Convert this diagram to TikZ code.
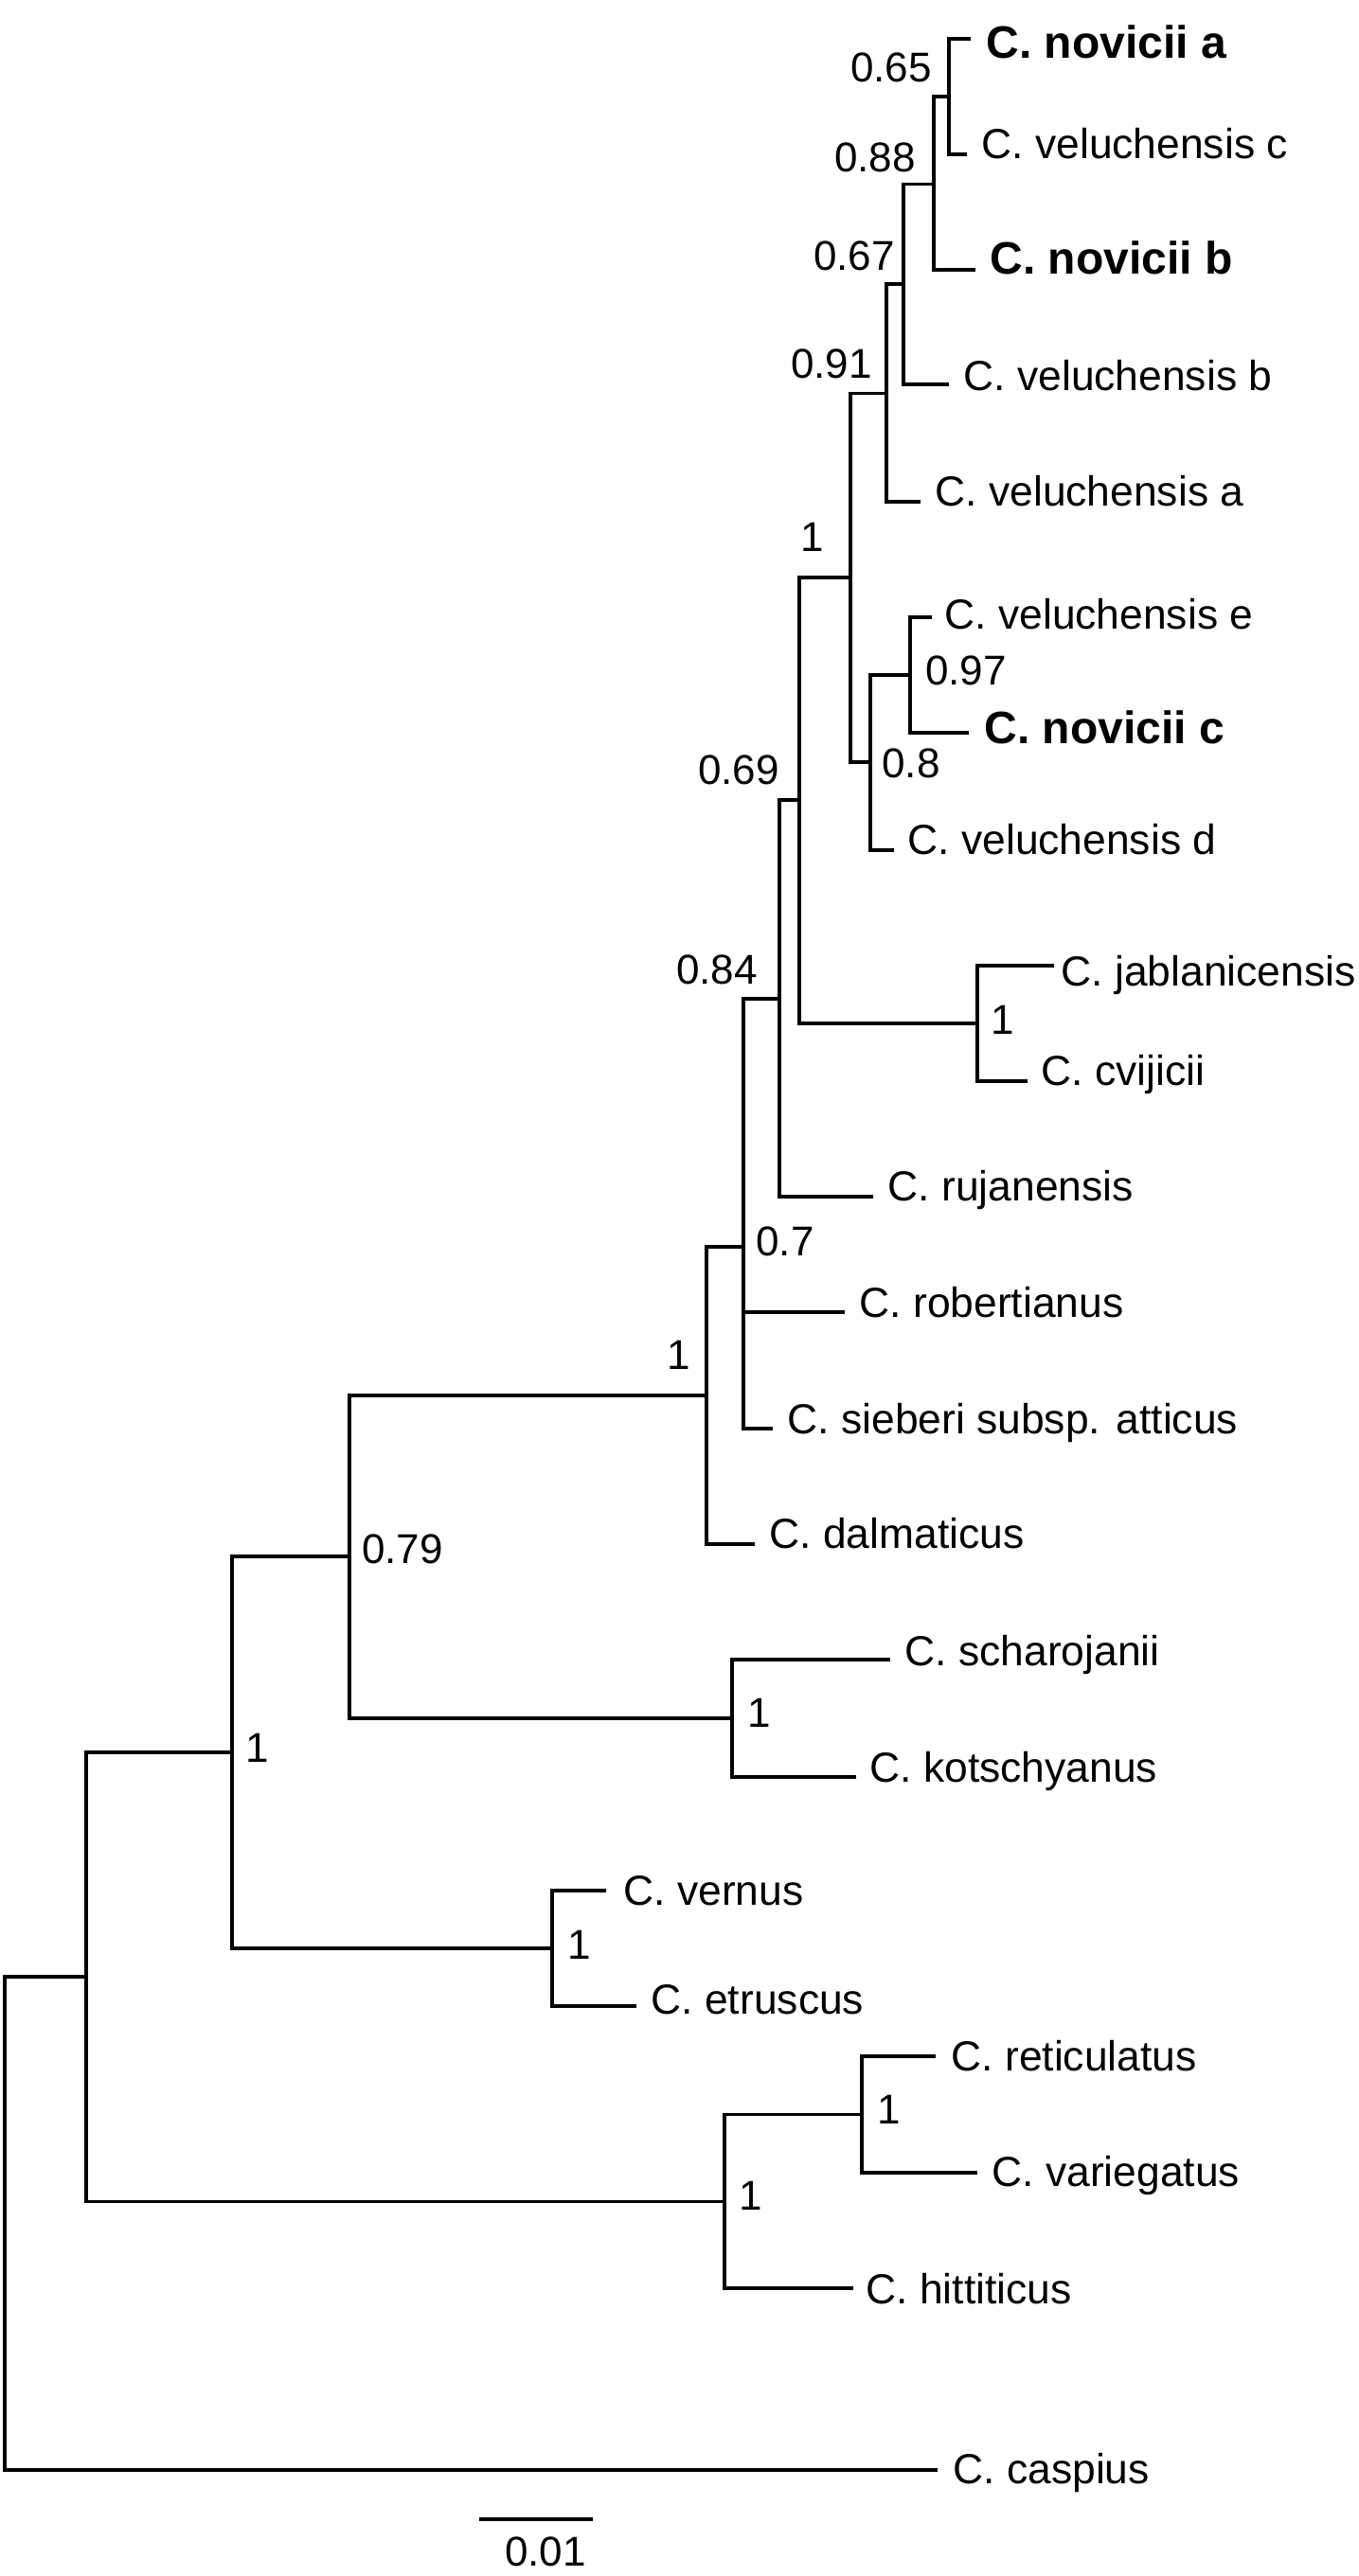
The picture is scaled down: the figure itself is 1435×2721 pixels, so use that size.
\documentclass[tikz,border=0pt]{standalone}
\usepackage{fontspec}
\setmainfont{Liberation Sans}
\begin{document}
\begin{tikzpicture}[x=0.25pt,y=-0.25pt,line width=0.8pt,
	taxon/.style={anchor=base west,inner sep=0pt,font=\fontsize{11.1}{13}\selectfont},
	novicii/.style={taxon,font=\fontsize{12}{14}\selectfont\bfseries},
	support/.style={anchor=base,inner sep=0pt,font=\fontsize{11}{13}\selectfont}]
		\useasboundingbox (0,0) rectangle (1435,2721);
		% inner nodes of the tree
		\coordinate (root) at (5,2348.5);
		\coordinate (na) at (91,2088);
		\coordinate (nb) at (245,1851);
		\coordinate (nc) at (369,1644);
		\coordinate (nd) at (746,1474);
		\coordinate (ne) at (785,1317);
		\coordinate (nf) at (823,1055);
		\coordinate (ng) at (844,845);
		\coordinate (nx) at (898,610);
		\coordinate (q91) at (936,415.5);
		\coordinate (q67) at (954,300);
		\coordinate (q88) at (986,194.5);
		\coordinate (q65) at (1002,102);
		\coordinate (q80) at (919,805);
		\coordinate (q97) at (961,713);
		\coordinate (nj) at (1032,1081);
		\coordinate (nk) at (773,1815);
		\coordinate (nv) at (583,2058);
		\coordinate (nh) at (765,2325.5);
		\coordinate (nr) at (910,2233.5);
		% tips
		\coordinate (t1) at (1025,41);
		\coordinate (t2) at (1021,163);
		\coordinate (t3) at (1030,285);
		\coordinate (t4) at (1002,406);
		\coordinate (t5) at (972,530);
		\coordinate (t6) at (984,652);
		\coordinate (t7) at (1023,774);
		\coordinate (t8) at (944,898);
		\coordinate (t9) at (1113,1020);
		\coordinate (t10) at (1085,1142);
		\coordinate (t11) at (922,1264);
		\coordinate (t12) at (892,1386);
		\coordinate (t13) at (816,1509);
		\coordinate (t14) at (797,1631);
		\coordinate (t15) at (940,1753);
		\coordinate (t16) at (904,1877);
		\coordinate (t17) at (640,1997);
		\coordinate (t18) at (672,2119);
		\coordinate (t19) at (988,2172);
		\coordinate (t20) at (1032,2295);
		\coordinate (t21) at (901,2417);
		\coordinate (t22) at (990,2609);
		% branches
		\draw (root) |- (na) (root) |- (t22);
		\draw (na) |- (nb) (na) |- (nh);
		\draw (nb) |- (nc) (nb) |- (nv);
		\draw (nc) |- (nd) (nc) |- (nk);
		\draw (nd) |- (ne) (nd) |- (t14);
		\draw (ne) |- (nf) (ne) |- (t12) (ne) |- (t13);
		\draw (nf) |- (ng) (nf) |- (t11);
		\draw (ng) |- (nx) (ng) |- (nj);
		\draw (nx) |- (q91) (nx) |- (q80);
		\draw (q91) |- (q67) (q91) |- (t5);
		\draw (q67) |- (q88) (q67) |- (t4);
		\draw (q88) |- (q65) (q88) |- (t3);
		\draw (q65) |- (t1) (q65) |- (t2);
		\draw (q80) |- (q97) (q80) |- (t8);
		\draw (q97) |- (t6) (q97) |- (t7);
		\draw (nj) |- (t9) (nj) |- (t10);
		\draw (nk) |- (t15) (nk) |- (t16);
		\draw (nv) |- (t17) (nv) |- (t18);
		\draw (nh) |- (nr) (nh) |- (t21);
		\draw (nr) |- (t19) (nr) |- (t20);
		% taxa
		\node[novicii] (l1) at (1040,61) {C. novicii a};
		\node[taxon] (l2) at (1035,167) {C. veluchensis c};
		\node[novicii] (l3) at (1044,289) {C. novicii b};
		\node[taxon] (l4) at (1016,412) {C. veluchensis b};
		\node[taxon] (l5) at (986,534) {C. veluchensis a};
		\node[taxon] (l6) at (996,664) {C. veluchensis e};
		\node[novicii] (l7) at (1038,785) {C. novicii c};
		\node[taxon] (l8) at (957,902) {C. veluchensis d};
		\node[taxon] (l9) at (1119,1041) {C. jablanicensis};
		\node[taxon] (l10) at (1098,1146) {C. cvijicii};
		\node[taxon] (l11) at (936,1268) {C. rujanensis};
		\node[taxon] (l12) at (906,1391) {C. robertianus};
		\node[taxon] (l13) at (830,1514) {C. sieberi subsp. atticus};
		\node[taxon] (l14) at (811,1635) {C. dalmaticus};
		\node[taxon] (l15) at (954,1759) {C. scharojanii};
		\node[taxon] (l16) at (917,1882) {C. kotschyanus};
		\node[taxon] (l17) at (657,2012) {C. vernus};
		\node[taxon] (l18) at (686,2127) {C. etruscus};
		\node[taxon] (l19) at (1003,2187) {C. reticulatus};
		\node[taxon] (l20) at (1046,2309) {C. variegatus};
		\node[taxon] (l21) at (913,2433) {C. hittiticus};
		\node[taxon] (l22) at (1005,2623) {C. caspius};
		% posterior probabilities
		\node[support] (s65) at (941,86) {0.65};
		\node[support] (s88) at (924,181) {0.88};
		\node[support] (s67) at (902,285) {0.67};
		\node[support] (s91) at (878,399) {0.91};
		\node[support] (sx) at (858,582) {1};
		\node[support] (s97) at (1020,723) {0.97};
		\node[support] (s80) at (962,821) {0.8};
		\node[support] (s69) at (780,828) {0.69};
		\node[support] (s84) at (757,1039) {0.84};
		\node[support] (sj) at (1059,1092) {1};
		\node[support] (s70) at (829,1326) {0.7};
		\node[support] (sd) at (717,1446) {1};
		\node[support] (s79) at (425,1651) {0.79};
		\node[support] (sk) at (802,1824) {1};
		\node[support] (sb) at (272,1861) {1};
		\node[support] (sv) at (612,2069) {1};
		\node[support] (sr) at (939,2243) {1};
		\node[support] (sh) at (793,2334) {1};
		% scale bar
		\coordinate (bar0) at (506,2661);
		\coordinate (bar1) at (626,2661);
		\draw (bar0) -- (bar1);
		\node[support] (barlbl) at (576,2710) {0.01};
\end{tikzpicture}
\end{document}
